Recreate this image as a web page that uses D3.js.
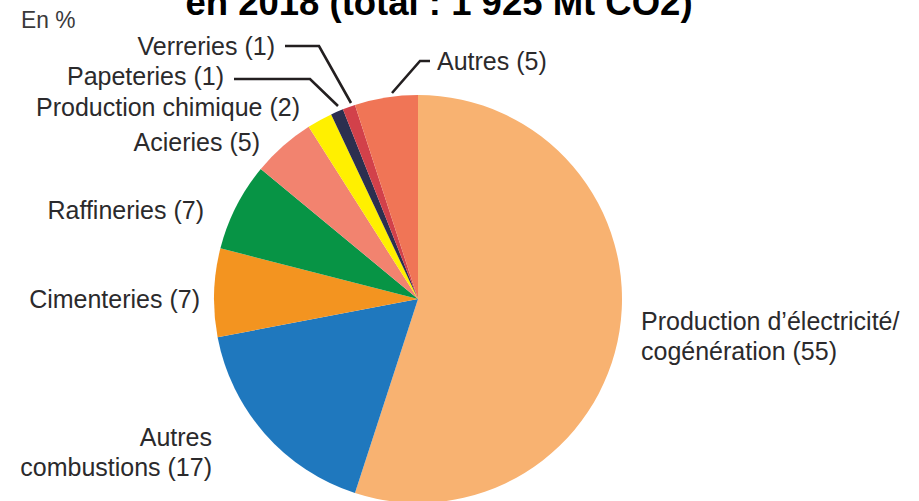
<!DOCTYPE html>
<html lang="fr">
<head>
<meta charset="UTF-8">
<title>Émissions de CO2 en 2018</title>
<script src="https://d3js.org/d3.v7.min.js"></script>
<style>
  body { margin: 0; background: #fff; }
  text { font-family: "Liberation Sans", Arial, sans-serif; fill: #2b2a2c; }
</style>
</head>
<body>
<script>
    // data, clockwise from 12 o'clock
    const labels = ["Production d\u2019électricité/|cogénération (55)", "Autres|combustions (17)", "Cimenteries (7)",
        "Raffineries (7)", "Acieries (5)", "Production chimique (2)", "Papeteries (1)", "Verreries (1)", "Autres (5)"];
    const values = [55, 17, 7, 7, 5, 2, 1, 1, 5];
    const colors = ["#f8b271", "#1f78be", "#f39420", "#079445", "#f2836f", "#fff000", "#2c2f4f", "#d2414a", "#f07556"];

    const W = 919, H = 501;
    const cx = 418, cy = 299, R = 204;

    let svg = d3.select("body").append("svg")
        .attr("width", W)
        .attr("height", H);

    // title, cut at the top like the source
    svg.append("text")
        .attr("x", 439).attr("y", 15)
        .attr("text-anchor", "middle")
        .attr("font-size", "36.5px")
        .attr("font-weight", "bold")
        .style("fill", "#000")
        .text("en 2018 (total : 1 925 Mt CO2)");

    svg.append("text")
        .attr("x", 21).attr("y", 28)
        .attr("font-size", "24px")
        .attr("transform", "translate(21,0) scale(0.95,1) translate(-21,0)")
        .style("fill", "#3a393b")
        .text("En %");

    let pie = d3.pie().sort(null).value(d => d);
    let arc = d3.arc().innerRadius(0).outerRadius(R);
    let arcs = pie(values);

    let g = svg.append("g").attr("transform", `translate(${cx},${cy})`);
    g.selectAll("path")
        .data(arcs)
        .enter().append("path")
        .attr("d", arc)
        .attr("fill", (d, i) => colors[i]);

    // label positions: [anchor, x, y of first line]
    const labelPos = [
        ["start", 641, 330], ["end", 212, 446], ["end", 200, 308], ["end", 204, 219],
        ["end", 260, 151], ["end", 300, 116], ["end", 224, 85], ["end", 275, 55], ["start", 437, 70]
    ];
    labels.forEach((l, i) => {
        let t = svg.append("text")
            .attr("text-anchor", labelPos[i][0])
            .attr("font-size", "25px");
        l.split("|").forEach((line, k) => {
            t.append("tspan")
                .attr("x", labelPos[i][1])
                .attr("y", labelPos[i][2] + k * 30)
                .text(line);
        });
    });

    // leader lines for the thin slices
    const leaders = [
        [[285, 46], [319, 46], [351, 103]],   // Verreries
        [[234, 79], [310, 79], [338, 106]],   // Papeteries
        [[430, 61], [420, 61], [392, 93]]     // Autres
    ];
    svg.selectAll("path.leader")
        .data(leaders)
        .enter().append("path")
        .attr("class", "leader")
        .attr("d", d3.line())
        .attr("fill", "none")
        .attr("stroke", "#231f20")
        .attr("stroke-width", 2.6);
</script>
</body>
</html>
